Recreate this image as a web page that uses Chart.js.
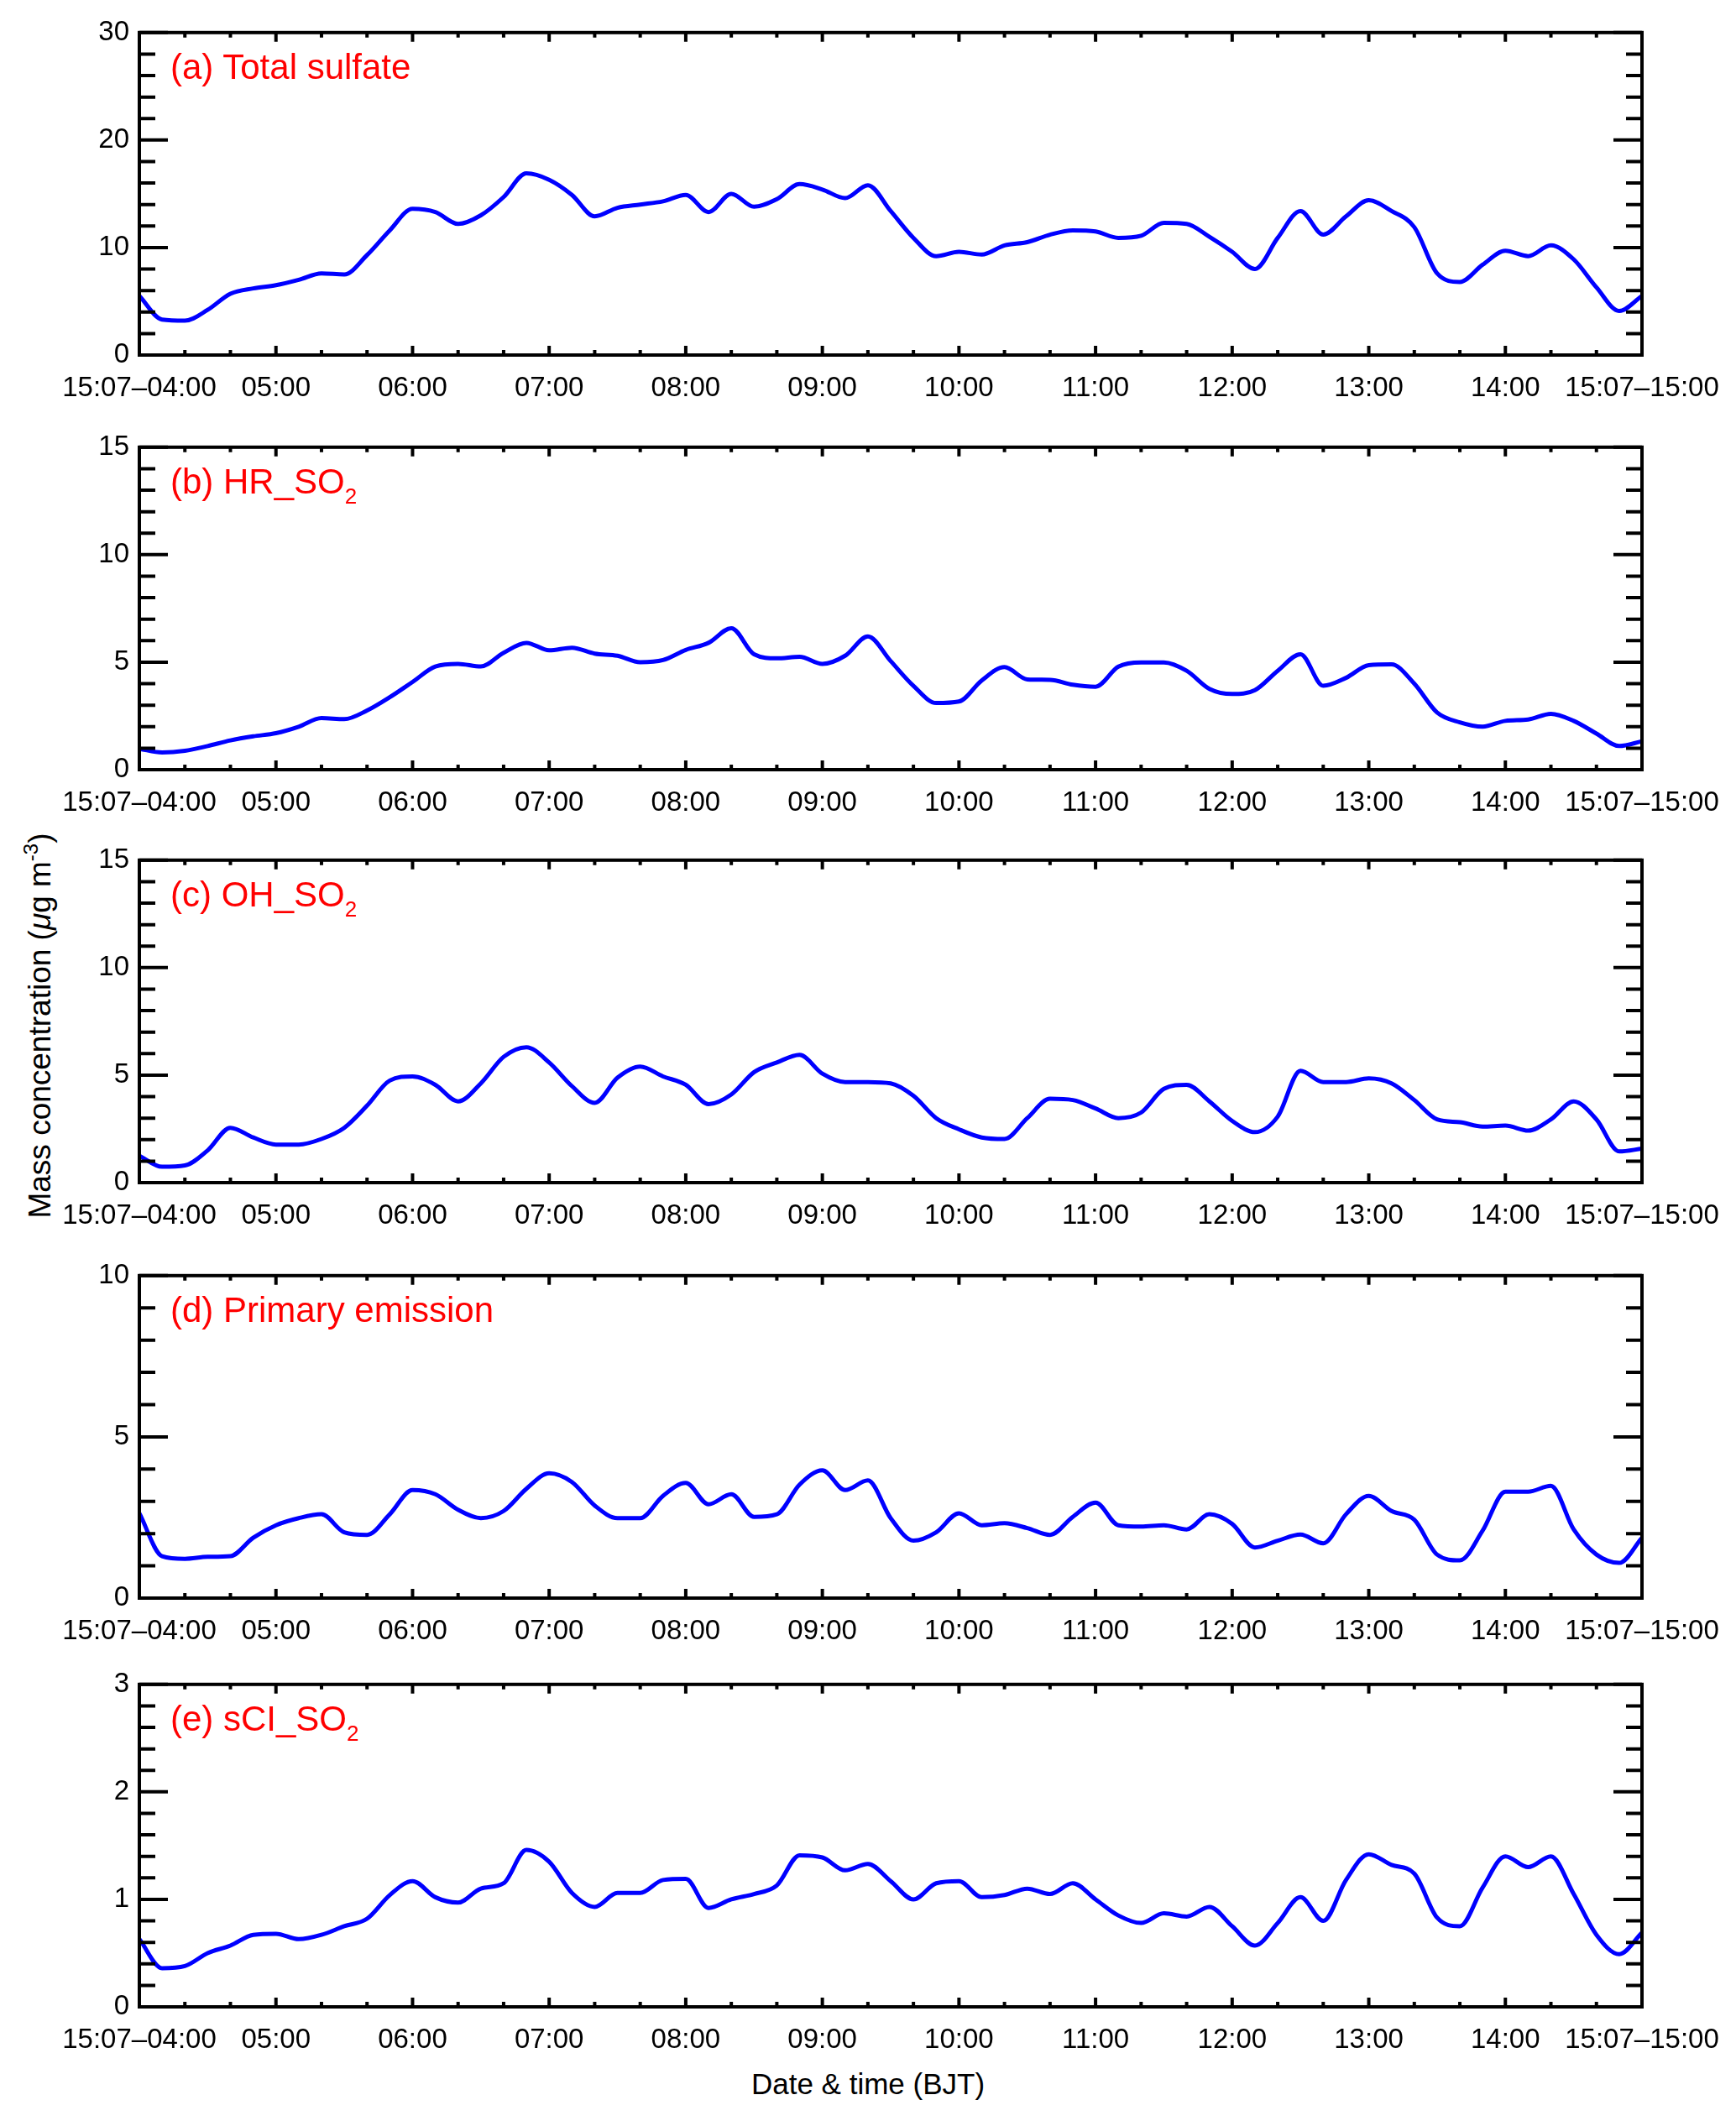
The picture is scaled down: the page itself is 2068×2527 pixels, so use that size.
<!DOCTYPE html>
<html>
<head>
<meta charset="utf-8">
<script src="https://cdn.jsdelivr.net/npm/chart.js@4.4.1/dist/chart.umd.min.js"></script>
<style>
  body { margin: 0; background: #fff; }
  #page { position: relative; width: 2068px; height: 2527px; background: #fff; overflow: hidden;
          font-family: 'Liberation Sans', Arial, sans-serif; }
  .panel { position: absolute; left: 0; width: 2068px; }
  .tag { position: absolute; left: 203px; color: #ff0000; font-size: 42px; line-height: 42px; white-space: nowrap; }
  .tag .sub { font-size: 26px; vertical-align: -12px; }
  #ytitle { position: absolute; left: 46px; top: 1222px; font-size: 37px; white-space: nowrap;
            transform: translate(-50%, -50%) rotate(-90deg); }
  #ytitle sup { font-size: 24px; vertical-align: 15px; }
  #xtitle { position: absolute; left: 1034px; top: 2465px; font-size: 35px; line-height: 35px;
            transform: translateX(-50%); white-space: nowrap; }
</style>
</head>
<body>
<div id="page">
  <div id="ytitle">Mass concentration (<i>μ</i>g m<sup>-3</sup>)</div>
  <div id="xtitle">Date &amp; time (BJT)</div>
</div>
<script>
// ===============================
// Data (10-min values, 04:00 - 15:00 on 15 July)
// ===============================
const minutes = [];
for (let m = 0; m <= 660; m += 10) minutes.push(m);

const hourLabels = ['15:07\u201304:00', '05:00', '06:00', '07:00', '08:00', '09:00',
  '10:00', '11:00', '12:00', '13:00', '14:00', '15:07\u201315:00'];

const totalSulfate = [5.5, 3.3, 3.2, 4.2, 5.7, 6.2, 6.5, 7.0, 7.6, 7.5, 9.3, 11.6, 13.6, 13.3, 12.2,
  13.0, 14.7, 16.9, 16.3, 14.9, 12.9, 13.7, 14.0, 14.3, 14.9, 13.3, 15.0, 13.8, 14.5, 15.9, 15.4,
  14.6, 15.8, 13.4, 10.9, 9.2, 9.6, 9.35, 10.2, 10.5, 11.2, 11.6, 11.5, 10.9, 11.1, 12.3, 12.2,
  11.0, 9.6, 8.0, 10.9, 13.4, 11.2, 12.9, 14.4, 13.4, 11.9, 7.6, 6.8, 8.4, 9.7, 9.2, 10.2, 8.9,
  6.3, 4.1, 5.5];

const hrSO2 = [0.97, 0.8, 0.88, 1.1, 1.36, 1.55, 1.7, 2.0, 2.4, 2.35, 2.75, 3.37, 4.08, 4.8, 4.92,
  4.8, 5.44, 5.9, 5.55, 5.67, 5.4, 5.3, 5.0, 5.1, 5.57, 5.9, 6.58, 5.37, 5.18, 5.25, 4.92, 5.3,
  6.2, 5.05, 3.9, 3.1, 3.17, 4.15, 4.77, 4.2, 4.18, 3.95, 3.86, 4.79, 4.99, 4.99, 4.6, 3.76, 3.52,
  3.7, 4.6, 5.37, 3.9, 4.27, 4.86, 4.9, 4.0, 2.66, 2.2, 2.0, 2.27, 2.33, 2.6, 2.27, 1.68, 1.1, 1.32];

const ohSO2 = [1.25, 0.74, 0.8, 1.5, 2.55, 2.1, 1.77, 1.77, 2.03, 2.55, 3.58, 4.75, 4.94, 4.55,
  3.78, 4.62, 5.85, 6.3, 5.59, 4.49, 3.71, 4.88, 5.4, 4.94, 4.55, 3.65, 4.1, 5.14, 5.59, 5.94,
  5.07, 4.68, 4.68, 4.62, 4.04, 3.0, 2.48, 2.1, 2.03, 3.0, 3.9, 3.84, 3.45, 3.0, 3.26, 4.36, 4.55,
  3.78, 2.87, 2.35, 3.07, 5.2, 4.68, 4.68, 4.85, 4.62, 3.84, 2.94, 2.81, 2.61, 2.65, 2.42, 2.94,
  3.78, 2.94, 1.45, 1.58];

const primaryEmission = [2.63, 1.3, 1.22, 1.28, 1.3, 1.87, 2.26, 2.48, 2.6, 2.04, 1.96, 2.6, 3.35,
  3.22, 2.74, 2.48, 2.7, 3.39, 3.87, 3.6, 2.87, 2.48, 2.48, 3.17, 3.57, 2.91, 3.22, 2.52, 2.6,
  3.52, 3.96, 3.35, 3.65, 2.48, 1.78, 2.04, 2.63, 2.26, 2.32, 2.17, 1.96, 2.52, 2.96, 2.26, 2.22,
  2.26, 2.13, 2.6, 2.3, 1.57, 1.78, 1.97, 1.7, 2.6, 3.17, 2.7, 2.43, 1.35, 1.17, 2.09, 3.3, 3.3,
  3.48, 2.13, 1.35, 1.09, 1.87];

const sciSO2 = [0.63, 0.36, 0.38, 0.5, 0.57, 0.67, 0.68, 0.63, 0.67, 0.75, 0.82, 1.04, 1.17, 1.02,
  0.97, 1.1, 1.15, 1.46, 1.35, 1.06, 0.93, 1.06, 1.06, 1.18, 1.19, 0.92, 1.0, 1.05, 1.13, 1.41,
  1.39, 1.27, 1.33, 1.17, 1.0, 1.15, 1.17, 1.02, 1.04, 1.1, 1.05, 1.15, 1.0, 0.85, 0.78, 0.87,
  0.84, 0.93, 0.75, 0.57, 0.78, 1.02, 0.8, 1.18, 1.42, 1.32, 1.24, 0.83, 0.75, 1.11, 1.4, 1.3,
  1.4, 1.05, 0.67, 0.49, 0.69];

// axis ranges: [max, major step, minor step]
const yRanges = [[30, 10, 2], [15, 5, 1], [15, 5, 1], [10, 5, 1], [3, 1, 0.2]];

// ===============================
// Layout
// ===============================
const PLOT_LEFT = 166, PLOT_RIGHT = 1956, PLOT_H = 386;
const PAD_TOP = 30, XAXIS_H = 80;
const plotTops = [37, 531, 1023, 1518, 2005];

const panels = [
  { tag: '(a) Total sulfate', values: totalSulfate },
  { tag: '(b) HR_SO<span class="sub">2</span>', values: hrSO2 },
  { tag: '(c) OH_SO<span class="sub">2</span>', values: ohSO2 },
  { tag: '(d) Primary emission', values: primaryEmission },
  { tag: '(e) sCI_SO<span class="sub">2</span>', values: sciSO2 }
];

const FONT = "'Liberation Sans', Arial, sans-serif";

function isMajor(v, step) {
  const r = v / step;
  return Math.abs(r - Math.round(r)) < 1e-6;
}

// frame + inward ticks on all four sides
const frameTicks = {
  id: 'frameTicks',
  afterDatasetsDraw(chart, args, opts) {
    const { ctx, chartArea: a, scales } = chart;
    ctx.save();
    ctx.strokeStyle = '#000';
    ctx.lineWidth = 4;
    ctx.lineCap = 'butt';
    ctx.beginPath();
    scales.x.ticks.forEach(t => {
      const px = scales.x.getPixelForValue(t.value);
      const len = isMajor(t.value, 60) ? 11 : 6;
      ctx.moveTo(px, a.bottom); ctx.lineTo(px, a.bottom - len);
      ctx.moveTo(px, a.top); ctx.lineTo(px, a.top + len);
    });
    scales.y.ticks.forEach(t => {
      const py = scales.y.getPixelForValue(t.value);
      const len = isMajor(t.value, opts.major) ? 34 : 19;
      ctx.moveTo(a.left, py); ctx.lineTo(a.left + len, py);
      ctx.moveTo(a.right, py); ctx.lineTo(a.right - len, py);
    });
    ctx.stroke();
    ctx.strokeRect(a.left, a.top, a.right - a.left, a.bottom - a.top);
    ctx.restore();
  }
};

const page = document.getElementById('page');

panels.forEach((p, i) => {
  const [yMax, yMajor, yMinor] = yRanges[i];
  const h = PAD_TOP + PLOT_H + XAXIS_H;

  const box = document.createElement('div');
  box.className = 'panel';
  box.style.top = (plotTops[i] - PAD_TOP) + 'px';
  box.style.height = h + 'px';
  const cv = document.createElement('canvas');
  cv.width = 2068; cv.height = h;
  cv.style.width = '2068px'; cv.style.height = h + 'px';
  box.appendChild(cv);
  page.appendChild(box);

  const tag = document.createElement('div');
  tag.className = 'tag';
  tag.style.top = (plotTops[i] + 22) + 'px';
  tag.innerHTML = p.tag;
  page.appendChild(tag);

  new Chart(cv, {
    type: 'line',
    data: {
      datasets: [{
        data: minutes.map((m, k) => ({ x: m, y: p.values[k] })),
        borderColor: '#0000ff',
        borderWidth: 5,
        pointRadius: 0,
        fill: false,
        cubicInterpolationMode: 'monotone'
      }]
    },
    options: {
      responsive: false,
      animation: false,
      layout: { padding: { top: PAD_TOP, right: 2068 - PLOT_RIGHT, left: 0, bottom: 0 } },
      plugins: {
        legend: { display: false },
        tooltip: { enabled: false },
        frameTicks: { major: yMajor }
      },
      scales: {
        x: {
          type: 'linear',
          min: 0, max: 660,
          grid: { display: false, drawTicks: false },
          border: { display: false },
          afterFit: s => { s.height = XAXIS_H; },
          ticks: {
            stepSize: 20,
            autoSkip: false,
            maxRotation: 0,
            padding: 20,
            color: '#000',
            font: { family: FONT, size: 33 },
            callback: v => isMajor(v, 60) ? hourLabels[Math.round(v / 60)] : ''
          }
        },
        y: {
          min: 0, max: yMax,
          grid: { display: false, drawTicks: false },
          border: { display: false },
          afterFit: s => { s.width = PLOT_LEFT; },
          ticks: {
            stepSize: yMinor,
            autoSkip: false,
            padding: 12,
            color: '#000',
            font: { family: FONT, size: 33 },
            callback: v => isMajor(v, yMajor) ? String(Math.round(v)) : ''
          }
        }
      }
    },
    plugins: [frameTicks]
  });
});
</script>
</body>
</html>
